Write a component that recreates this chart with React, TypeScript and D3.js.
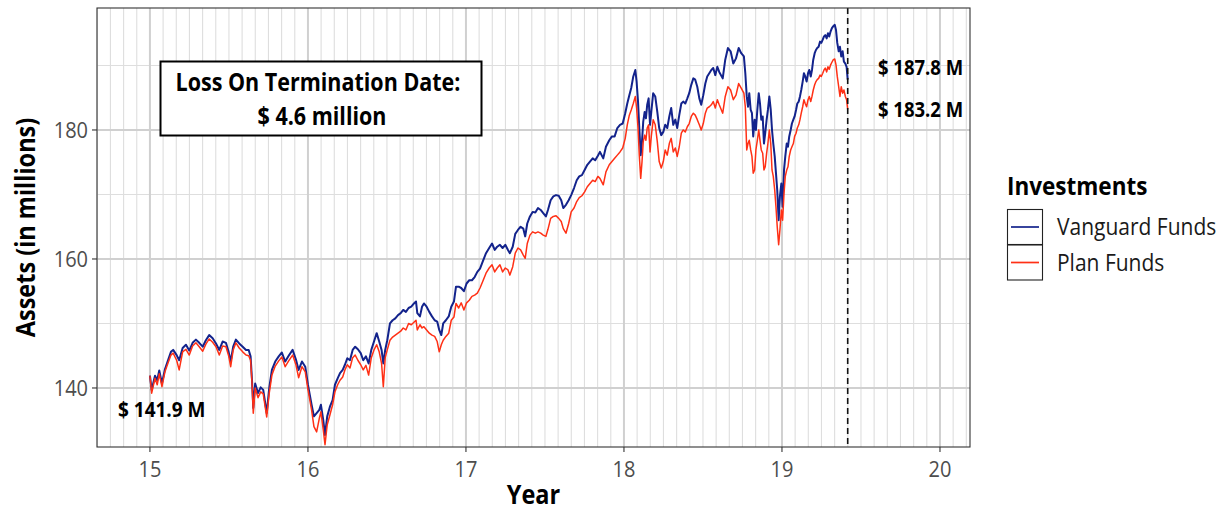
import React from 'react';
import * as d3 from 'd3';

// Decimal year (15 = 2015)
const years = [
  15.000,15.011,15.032,15.046,15.059,15.076,15.095,15.116,15.133,15.147,
  15.169,15.185,15.207,15.228,15.249,15.270,15.291,15.312,15.334,15.354,
  15.375,15.397,15.418,15.439,15.460,15.481,15.498,15.511,15.527,15.544,
  15.565,15.587,15.608,15.625,15.637,15.646,15.654,15.666,15.684,15.701,
  15.717,15.739,15.755,15.772,15.793,15.815,15.835,15.856,15.878,15.903,
  15.924,15.941,15.962,15.983,16.000,
  16.023,16.038,16.055,16.072,16.082,16.097,16.108,16.122,16.139,16.156,
  16.171,16.188,16.203,16.220,16.234,16.249,16.266,16.283,16.299,16.316,
  16.334,16.350,16.367,16.384,16.401,16.418,16.435,16.451,16.466,16.477,
  16.489,16.502,16.519,16.536,16.553,16.570,16.587,16.603,16.620,16.637,
  16.654,16.671,16.684,16.692,16.709,16.722,16.734,16.751,16.768,16.785,
  16.802,16.818,16.831,16.844,16.856,16.873,16.891,16.907,16.924,16.937,
  16.954,16.970,16.987,17.004,17.021,17.038,17.055,17.072,17.089,17.106,
  17.127,17.147,17.165,17.182,17.198,17.215,17.232,17.249,17.266,17.278,
  17.296,17.312,17.329,17.346,17.363,17.375,17.388,17.405,17.422,17.439,
  17.456,17.473,17.489,17.506,17.519,17.536,17.553,17.570,17.587,17.603,
  17.616,17.633,17.650,17.666,17.684,17.701,17.717,17.734,17.751,17.768,
  17.785,17.802,17.818,17.835,17.848,17.869,17.886,17.907,17.924,17.941,
  17.958,17.975,17.992,18.008,18.021,18.034,18.046,18.059,18.072,18.080,
  18.089,18.097,18.106,18.114,18.122,18.131,18.139,18.147,18.156,18.165,
  18.173,18.185,18.198,18.211,18.223,18.236,18.249,18.261,18.274,18.287,
  18.299,18.312,18.325,18.337,18.350,18.363,18.375,18.388,18.401,18.413,
  18.426,18.439,18.451,18.464,18.477,18.489,18.502,18.515,18.527,18.540,
  18.553,18.565,18.578,18.591,18.603,18.625,18.641,18.658,18.675,18.692,
  18.709,18.726,18.742,18.759,18.768,18.777,18.785,18.793,18.802,18.810,
  18.818,18.827,18.835,18.844,18.853,18.861,18.869,18.878,18.886,18.894,
  18.903,18.911,18.920,18.929,18.937,18.945,18.954,18.962,18.970,18.979,
  18.987,18.996,19.004,19.013,19.021,19.030,19.038,19.046,19.055,19.063,
  19.072,19.080,19.089,19.097,19.106,19.114,19.122,19.131,19.139,19.147,
  19.156,19.165,19.173,19.182,19.190,19.198,19.207,19.215,19.223,19.232,
  19.241,19.249,19.258,19.266,19.274,19.283,19.291,19.299,19.308,19.316,
  19.325,19.334,19.342,19.350,19.359,19.367,19.375,19.384,19.392,19.401,
  19.409,19.416,
];

const vanguard = [
  141.9,139.7,141.9,141.2,142.7,140.7,142.9,144.4,145.6,145.9,
  145.1,144.3,146.2,146.7,145.8,147.0,147.5,147.0,146.4,147.4,
  148.2,147.7,146.9,145.9,147.2,147.0,145.6,144.1,146.4,147.5,
  146.9,146.4,145.9,145.9,144.9,141.2,136.9,140.7,139.2,140.1,
  139.7,136.1,140.0,142.8,144.1,144.9,145.5,144.1,145.0,145.9,
  144.4,142.8,144.1,143.3,140.5,
  137.4,135.6,136.1,136.6,137.4,135.0,132.7,135.6,137.1,138.1,
  140.5,141.5,142.3,142.8,143.6,144.6,144.3,145.9,146.4,146.0,
  145.4,144.3,144.9,143.8,145.9,147.2,148.5,147.2,145.9,143.8,
  145.9,147.4,150.0,150.5,150.8,151.3,151.6,152.1,151.8,152.4,
  152.6,153.1,153.4,151.6,151.1,152.6,153.1,152.6,151.8,151.1,
  150.5,150.3,149.0,148.2,150.0,150.5,151.1,152.6,153.4,155.7,
  155.7,155.5,155.0,156.2,156.7,156.7,157.2,158.0,158.5,159.6,
  160.9,161.7,162.4,161.4,161.9,162.2,161.7,162.2,161.4,160.9,
  161.9,163.9,164.5,165.0,164.7,163.5,165.5,166.6,167.3,167.2,
  167.9,167.6,167.1,166.6,167.6,169.1,169.7,169.9,169.8,169.1,
  167.9,168.4,169.1,169.9,171.0,172.2,172.8,173.0,173.8,174.6,
  175.1,175.6,175.3,176.0,176.6,175.6,177.4,178.4,179.0,179.0,
  180.3,180.8,181.0,182.6,184.1,185.4,186.5,188.3,189.3,187.5,
  184.4,180.3,176.1,178.2,181.3,182.8,181.8,183.9,184.9,180.8,
  182.8,185.7,185.2,182.8,180.3,179.2,179.7,180.8,180.3,182.1,
  183.4,180.8,181.6,180.3,182.3,184.1,184.4,184.1,184.9,185.7,
  187.0,188.0,187.8,186.7,184.9,183.9,185.4,187.2,188.3,188.8,
  189.3,189.6,188.5,189.8,189.0,188.0,190.9,192.7,192.2,190.3,
  191.1,192.7,191.9,191.4,188.8,185.2,183.6,185.7,183.1,182.6,
  179.0,181.6,180.0,183.1,185.7,184.1,181.6,182.1,177.9,179.5,
  181.6,183.1,185.2,183.1,180.0,177.9,175.9,173.3,170.7,166.0,
  169.7,171.7,168.1,173.8,175.9,177.9,177.4,179.0,180.0,181.0,
  181.6,182.1,183.1,184.1,184.4,185.2,186.2,187.5,188.8,188.3,
  187.5,188.8,189.3,188.3,189.3,190.9,191.9,192.4,192.7,192.9,
  193.7,193.5,194.0,194.5,194.7,194.2,195.0,194.5,195.3,195.8,
  196.1,196.3,195.5,193.5,192.2,192.9,191.4,192.2,190.6,190.3,
  189.8,187.8,
];

const plan = [
  141.9,139.2,141.5,140.5,142.2,140.2,142.5,144.0,145.1,145.4,
  144.3,142.8,145.6,146.0,145.1,146.5,147.0,146.4,145.7,146.8,
  147.6,147.1,146.4,145.1,146.5,146.4,145.0,143.3,145.9,147.0,
  146.2,145.6,145.1,145.0,144.3,140.8,136.1,140.0,138.5,139.4,
  139.1,135.5,139.2,142.0,143.4,144.2,144.8,143.3,144.2,145.1,
  143.6,141.6,143.3,142.5,139.8,
  136.6,134.0,133.2,135.3,136.3,133.5,131.2,134.3,135.8,137.4,
  139.4,140.5,141.2,141.7,142.8,143.6,143.1,144.7,145.1,144.3,
  143.6,142.8,143.5,142.0,144.7,145.9,146.7,145.6,143.8,140.2,
  144.7,145.9,147.4,147.9,148.2,148.5,148.8,149.3,149.0,150.0,
  149.8,150.2,150.5,149.0,149.8,149.3,149.5,149.0,148.5,148.2,
  148.0,147.2,145.6,146.7,147.4,148.0,148.5,150.5,151.0,153.1,
  152.4,153.2,152.1,153.2,153.6,154.2,154.4,154.7,155.5,156.5,
  157.8,158.6,159.1,158.0,158.6,159.1,158.0,158.6,158.3,157.5,
  158.8,160.9,161.7,161.4,160.6,160.1,162.4,163.7,164.2,164.0,
  164.2,164.0,163.7,163.5,164.6,166.3,166.6,166.7,166.3,165.8,
  164.7,164.0,165.5,167.3,167.9,168.9,169.5,169.8,170.4,171.2,
  171.7,172.2,172.0,172.8,172.5,171.5,173.5,174.6,175.1,175.6,
  176.1,176.6,177.2,178.7,180.8,182.3,183.1,184.1,185.2,183.4,
  180.3,176.1,172.5,175.0,178.2,179.2,178.4,180.3,180.8,176.6,
  179.0,181.6,180.8,178.2,175.1,174.1,175.1,176.9,176.1,177.9,
  178.7,176.6,177.2,175.9,177.4,179.5,180.0,179.7,180.5,181.0,
  182.1,182.6,182.3,181.6,180.8,180.0,181.0,182.6,183.4,183.6,
  183.9,184.4,183.4,184.7,183.9,182.6,185.2,186.7,186.2,184.7,
  185.4,187.2,186.5,185.7,183.6,176.9,177.9,178.4,176.9,175.9,
  173.3,173.8,176.9,178.4,180.0,178.4,176.9,176.4,173.8,174.3,
  176.4,177.9,180.0,177.9,173.8,172.8,170.7,168.1,165.0,162.2,
  164.5,167.6,166.0,170.2,172.8,173.8,174.3,175.9,176.9,177.4,
  177.9,179.0,179.5,180.3,180.8,181.6,182.6,183.6,184.7,184.1,
  183.6,184.7,185.2,184.4,185.2,186.2,187.0,187.5,187.8,188.0,
  188.5,188.3,188.8,189.3,189.6,189.0,189.8,189.4,190.1,190.5,
  190.9,191.0,190.1,188.3,186.7,185.2,186.7,185.7,186.2,185.2,
  184.7,183.2,
];

const seriesNames = ['Vanguard Funds', 'Plan Funds'];
const seriesColors = ['#13238c', '#ff3015'];
const xTickValues = [15, 16, 17, 18, 19, 20];
const yTickValues = [140, 160, 180];
const yMinorValues = [150, 170, 190];
const terminationYear = 19.416;
const startLabel = '$ 141.9 M';
const endLabels = ['$ 187.8 M', '$ 183.2 M'];
const lossLines = ['Loss On Termination Date:', '$ 4.6 million'];
const legendTitle = 'Investments';
const xTitle = 'Year';
const yTitle = 'Assets (in millions)';

const FONT = '"Open Sans", Lato, sans-serif';
const SY = 1.13; // vertical stretch of glyphs seen in the reference

function T(props: {
  x: number;
  y: number;
  size: number;
  bold?: boolean;
  anchor?: string;
  fill?: string;
  rotate?: number;
  children: React.ReactNode;
}) {
  const { x, y, size, bold, anchor, fill, rotate, children } = props;
  const tr = rotate
    ? `translate(${x},${y}) rotate(${rotate}) scale(1,${SY})`
    : `translate(${x},${y}) scale(1,${SY})`;
  return (
    <text
      transform={tr}
      fontSize={size}
      fontWeight={bold ? 'bold' : 'normal'}
      textAnchor={anchor || 'start'}
      fill={fill || '#000'}
    >
      {children}
    </text>
  );
}

export default function App() {
  const W = 1230, H = 510;
  const left = 97, right = 970, top = 8, bottom = 447;
  const x = d3.scaleLinear().domain([14.665, 20.19]).range([left, right]);
  const y = d3.scaleLinear().domain([130.85, 198.91]).range([bottom, top]);

  const minorX = d3
    .range(Math.ceil(14.665 * 12), Math.floor(20.19 * 12) + 1)
    .map((m) => m / 12)
    .filter((v) => Math.abs(v - Math.round(v)) > 1e-6);

  const line = d3
    .line<number>()
    .x((_, i) => x(years[i]))
    .y((d) => y(d));

  const vPath = line(vanguard) || '';
  const pPath = line(plan) || '';

  return (
    <svg
      width={W}
      height={H}
      style={{ position: 'absolute', left: 0, top: 0, background: '#fff' }}
      fontFamily={FONT}
    >
      <rect x={0} y={0} width={W} height={H} fill="#fff" />
      <defs>
        <clipPath id="panel">
          <rect x={left} y={top} width={right - left} height={bottom - top} />
        </clipPath>
      </defs>
      {/* minor grid */}
      {minorX.map((v) => (
        <line key={'mx' + v} x1={x(v)} x2={x(v)} y1={top} y2={bottom} stroke="#dedede" strokeWidth={1.1} />
      ))}
      {yMinorValues.map((v) => (
        <line key={'my' + v} x1={left} x2={right} y1={y(v)} y2={y(v)} stroke="#dedede" strokeWidth={1.1} />
      ))}
      {/* major grid */}
      {xTickValues.map((v) => (
        <line key={'Mx' + v} x1={x(v)} x2={x(v)} y1={top} y2={bottom} stroke="#d0d0d0" strokeWidth={2} />
      ))}
      {yTickValues.map((v) => (
        <line key={'My' + v} x1={left} x2={right} y1={y(v)} y2={y(v)} stroke="#d0d0d0" strokeWidth={2} />
      ))}

      <g clipPath="url(#panel)">
        <path d={vPath} fill="none" stroke={seriesColors[0]} strokeWidth={2} strokeLinejoin="round" />
        <path d={pPath} fill="none" stroke={seriesColors[1]} strokeWidth={1.5} strokeLinejoin="round" />
        <line
          x1={x(terminationYear)}
          x2={x(terminationYear)}
          y1={top}
          y2={bottom}
          stroke="#111"
          strokeWidth={1.6}
          strokeDasharray="6,4"
        />
      </g>

      {/* panel border */}
      <rect x={left} y={top} width={right - left} height={bottom - top} fill="none" stroke="#333" strokeWidth={1.1} />

      {/* loss annotation box */}
      <rect x={160.5} y={61.5} width={321} height={74} fill="#fff" stroke="#000" strokeWidth={2} />
      <T x={318} y={91} size={21.5} bold anchor="middle">{lossLines[0]}</T>
      <T x={322} y={125} size={21.5} bold anchor="middle">{lossLines[1]}</T>

      {/* value labels */}
      <T x={118} y={417} size={19} bold>{startLabel}</T>
      <T x={878} y={75} size={18.5} bold>{endLabels[0]}</T>
      <T x={878} y={117} size={18.5} bold>{endLabels[1]}</T>

      {/* x axis */}
      {xTickValues.map((v) => (
        <g key={'xt' + v}>
          <line x1={x(v)} x2={x(v)} y1={bottom} y2={bottom + 5} stroke="#333" strokeWidth={1.1} />
          <T x={x(v)} y={477} size={20} anchor="middle" fill="#4d4d4d">{v}</T>
        </g>
      ))}
      {/* y axis */}
      {yTickValues.map((v) => (
        <g key={'yt' + v}>
          <line x1={left - 5} x2={left} y1={y(v)} y2={y(v)} stroke="#333" strokeWidth={1.1} />
          <T x={88} y={y(v) + 8} size={20} anchor="end" fill="#4d4d4d">{v}</T>
        </g>
      ))}

      <T x={(left + right) / 2} y={504} size={23.5} bold anchor="middle">{xTitle}</T>
      <T x={35} y={(top + bottom) / 2} size={23.5} bold anchor="middle" rotate={-90}>{yTitle}</T>

      {/* legend */}
      <T x={1007} y={195} size={22.5} bold>{legendTitle}</T>
      {seriesNames.map((name, i) => (
        <g key={name}>
          <rect x={1007.5} y={209.5 + i * 35.5} width={35} height={35} fill="#fff" stroke="#222" strokeWidth={1.1} />
          <line x1={1011} x2={1039} y1={227 + i * 35.5} y2={227 + i * 35.5} stroke={seriesColors[i]} strokeWidth={1.7} />
          <T x={1057} y={235 + i * 35.5} size={21} fill="#1a1a1a">{name}</T>
        </g>
      ))}
    </svg>
  );
}
